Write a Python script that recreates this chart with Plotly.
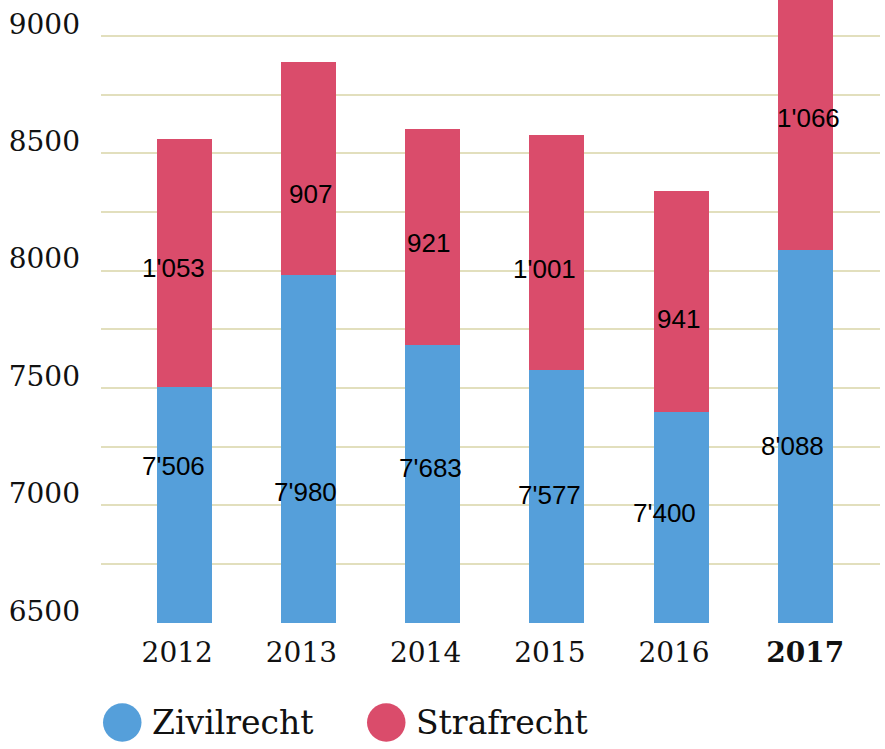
import plotly.graph_objects as go

years = ["2012", "2013", "2014", "2015", "2016", "2017"]
zivilrecht = [7506, 7980, 7683, 7577, 7400, 8088]
strafrecht = [1053, 907, 921, 1001, 941, 1066]
zivil_labels = ["7'506", "7'980", "7'683", "7'577", "7'400", "8'088"]
straf_labels = ["1'053", "907", "921", "1'001", "941", "1'066"]
year_ticktext = ["2012\u2002", "2013\u2002", "2014\u2002", "2015\u2002", "2016\u2002", "<b>2017</b>"]
y_tickvals = [6500, 7000, 7500, 8000, 8500, 9000]

# label placement offsets (pixels) relative to segment centre - style only
zivil_xshift = [-11, -3, -2, -7, -17, -13]
zivil_yshift = [39, -43, 16, 1, 4, -10]
straf_xshift = [-11, 2, -4, -12, -3, 3]
straf_yshift = [-5, -25, -6, -17, -18, 7]

BLUE = "#559FDA"
RED = "#DA4C6B"
GRID = "#E2DFBD"
Y0, Y1 = 6499, 9153

fig = go.Figure()
fig.add_trace(go.Bar(x=years, y=zivilrecht, name="Zivilrecht", marker_color=BLUE,
                     marker_line_width=0, width=0.443, hoverinfo="skip"))
fig.add_trace(go.Bar(x=years, y=strafrecht, name="Strafrecht", marker_color=RED,
                     marker_line_width=0, width=0.443, hoverinfo="skip"))

label_font = dict(family="Liberation Sans, Arial", size=26, color="#000")
annotations = []
for i, yr in enumerate(years):
    zc = (6500 + zivilrecht[i]) / 2
    sc = zivilrecht[i] + strafrecht[i] / 2
    annotations.append(dict(x=i, y=zc, xref="x", yref="y", text=zivil_labels[i], showarrow=False,
                            xshift=zivil_xshift[i], yshift=zivil_yshift[i], font=label_font))
    annotations.append(dict(x=i, y=sc, xref="x", yref="y", text=straf_labels[i], showarrow=False,
                            xshift=straf_xshift[i], yshift=straf_yshift[i], font=label_font))

# legend built from shapes + text
W, H = 779, 623
def px_x(p):
    return (p - 101) / W
def px_y(p):
    return (H - p) / H

shapes = [
    dict(type="circle", xref="paper", yref="paper", x0=px_x(103), x1=px_x(141.5),
         y0=px_y(741.7), y1=px_y(703.3), fillcolor=BLUE, line_width=0),
    dict(type="circle", xref="paper", yref="paper", x0=px_x(367), x1=px_x(405.5),
         y0=px_y(741.7), y1=px_y(703.3), fillcolor=RED, line_width=0),
]
annotations.append(dict(xref="paper", yref="paper", x=px_x(150), y=px_y(722),
                        xanchor="left", yanchor="middle", text="Zivilrecht", showarrow=False,
                        font=dict(family="DejaVu Serif", size=33, color="#111")))
annotations.append(dict(xref="paper", yref="paper", x=px_x(414), y=px_y(722),
                        xanchor="left", yanchor="middle", text="Strafrecht", showarrow=False,
                        font=dict(family="DejaVu Serif", size=33, color="#111")))

fig.update_layout(
    width=885, height=749,
    margin=dict(l=101, r=5, t=0, b=126, pad=0),
    barmode="stack",
    showlegend=False,
    plot_bgcolor="white", paper_bgcolor="white",
    annotations=annotations,
    shapes=shapes,
    xaxis=dict(type="category", range=[-0.67, 5.602], tickvals=years, ticktext=year_ticktext,
               showgrid=False, zeroline=False, showline=False, ticks="",
               tickfont=dict(family="DejaVu Serif", size=28, color="#111"),
               ticklabelstandoff=10),
    yaxis=dict(range=[Y0, Y1], tickvals=y_tickvals, showgrid=True, gridcolor=GRID, gridwidth=2,
               minor=dict(dtick=250, tick0=6500, showgrid=True, gridcolor=GRID, gridwidth=2),
               zeroline=False, showline=False, ticks="",
               tickfont=dict(family="DejaVu Serif", size=28, color="#111"),
               ticklabelshift=-12, ticklabelstandoff=20),
)

fig.write_html("out.html")
